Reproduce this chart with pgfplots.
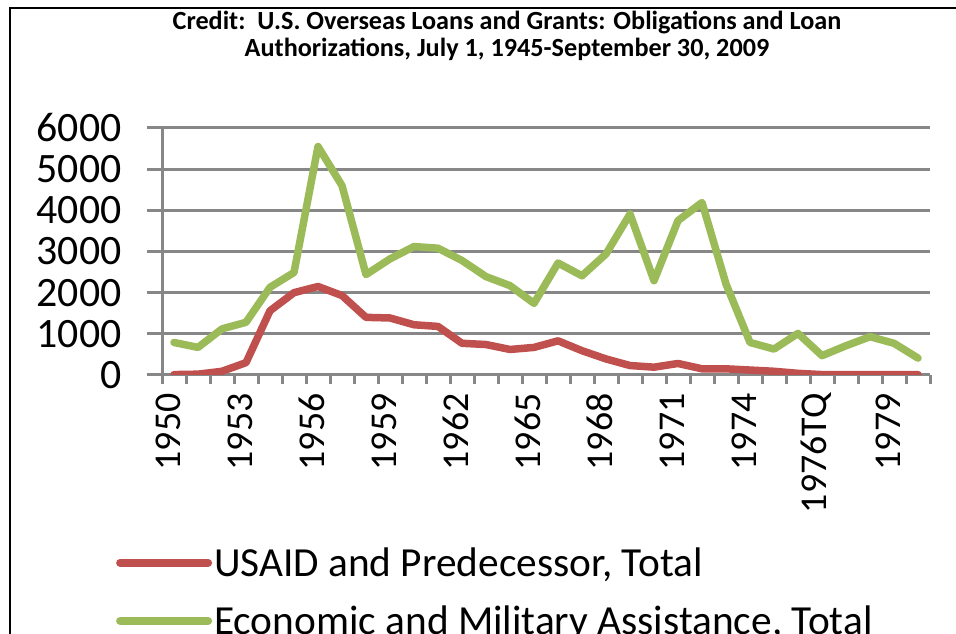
\documentclass[border=0pt]{standalone}
\usepackage{fontspec}
\setmainfont{Carlito}
\usepackage{pgfplots}
\pgfplotsset{compat=1.18}
\definecolor{usaid}{HTML}{C0504D}
\definecolor{econ}{HTML}{9BBB59}
\definecolor{gridgray}{HTML}{878787}

% index, red = USAID and Predecessor, green = Economic and Military Assistance
% 0..26 = 1950..1976, 27 = 1976TQ, 28..31 = 1977..1980
\pgfplotstableread{
x   usaid  econ
0   10     790
1   20     670
2   90     1120
3   300    1280
4   1560   2130
5   2000   2490
6   2150   5550
7   1930   4600
8   1400   2440
9   1385   2820
10  1220   3120
11  1180   3080
12  770    2780
13  740    2390
14  620    2170
15  670    1740
16  830    2720
17  590    2410
18  390    2940
19  230    3910
20  190    2290
21  280    3750
22  150    4190
23  150    2210
24  120    790
25  90     630
26  40     1010
27  10     470
28  10     710
29  10     930
30  10     770
31  10     410
}\credit

\begin{document}
\begin{tikzpicture}[x=1bp,y=1bp]
\useasboundingbox (0,0) rectangle (956,634);
\draw[line width=1.5bp] (10,-20) -- (10,626) -- (990,626);
\node[font=\bfseries\fontsize{26.3}{27}\selectfont, align=center] at (507,598)
  {Credit:\ \ U.S. Overseas Loans and Grants: Obligations and Loan\\
   Authorizations, July 1, 1945-September 30, 2009};
\begin{axis}[
  at={(162bp,259bp)}, anchor=south west,
  scale only axis, width=768bp, height=247bp,
  xmin=-0.5, xmax=31.5, ymin=0, ymax=6000,
  axis x line*=bottom, axis y line*=left,
  axis line style={gridgray, line width=3bp},
  ymajorgrids, grid style={gridgray, line width=3bp},
  ytick={0,1000,...,6000},
  scaled y ticks=false,
  /pgf/number format/1000 sep={},
  /pgf/number format/assume math mode=true,
  tick align=outside,
  major tick length=15bp,
  minor tick length=9bp,
  y tick style={gridgray, line width=3bp},
  xtick={0,3,...,30},
  xticklabels={1950,1953,1956,1959,1962,1965,1968,1971,1974,1976TQ,1979},
  major x tick style={draw=none},
  minor xtick={-0.5,0.5,...,31.5},
  minor x tick style={gridgray, line width=3bp},
  yticklabel style={font=\fontsize{42}{42}\selectfont, xshift=-22bp},
  xticklabel style={font=\fontsize{38}{38}\selectfont, rotate=90, anchor=east, yshift=6bp},
  legend style={at={(-0.06,-0.69)}, anchor=north west, draw=none, fill=none,
    font=\fontsize{41.5}{48}\selectfont, row sep=24bp, inner sep=0pt},
  legend cell align=left,
  legend image code/.code={\draw[#1, line width=8bp, line cap=round] (0bp,0bp) -- (88bp,0bp);},
]
\addplot[usaid, line width=7.5bp, line join=round, line cap=round] table[x=x, y=usaid] {\credit};
\addplot[econ, line width=7.5bp, line join=round, line cap=round] table[x=x, y=econ] {\credit};
\legend{{USAID and Predecessor, Total}, {Economic and Military Assistance, Total}}
\end{axis}
\end{tikzpicture}
\end{document}
